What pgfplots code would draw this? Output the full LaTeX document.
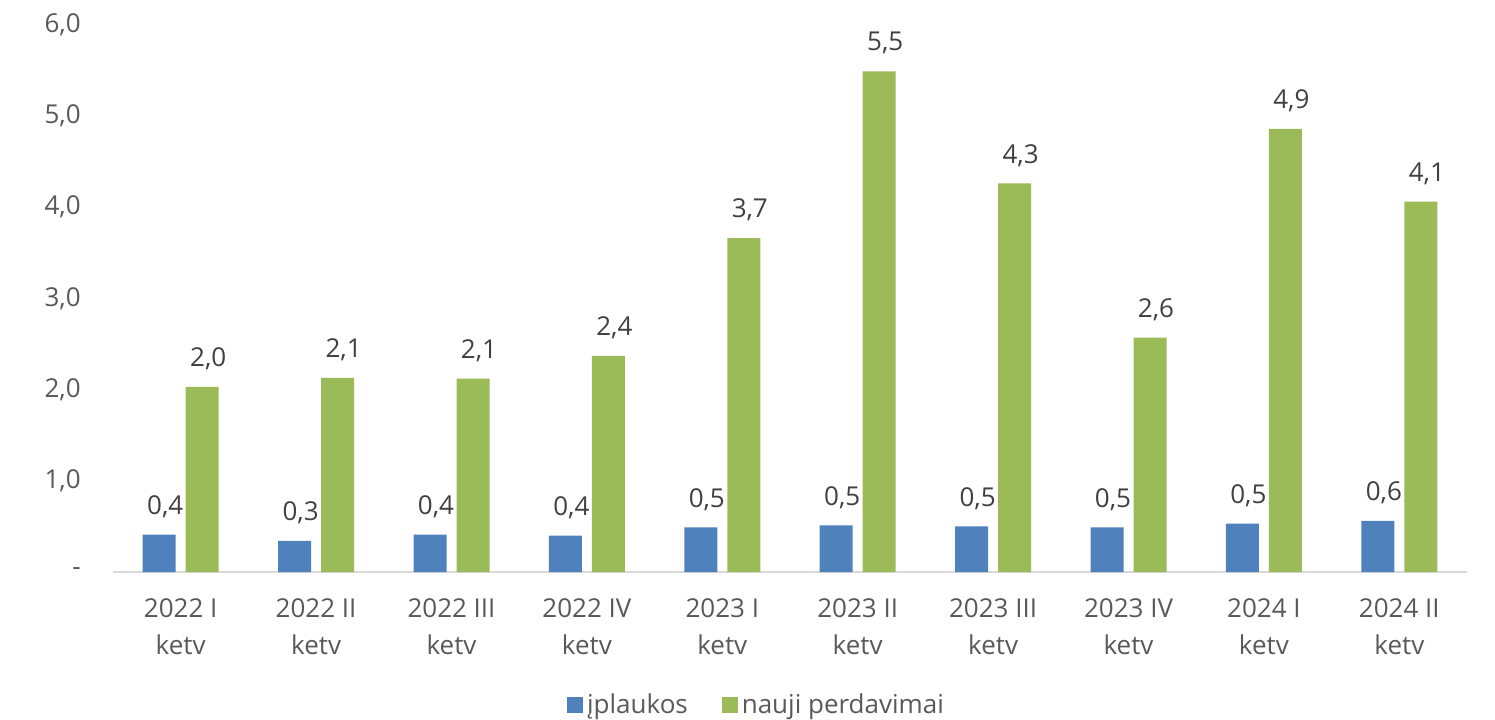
\documentclass[border=0pt]{standalone}
\usepackage{fontspec}
\setmainfont{Open Sans}
\usepackage{pgfplots}
\usepackage{pgfplotstable}
\pgfplotsset{compat=1.18}
\definecolor{cblue}{HTML}{4F81BD}
\definecolor{cgreen}{HTML}{9BBB59}
\definecolor{ctick}{HTML}{595959}
\definecolor{clab}{HTML}{404040}
\definecolor{caxis}{HTML}{D9D9D9}
\pgfplotstableread{
x y
0 0.41
1 0.34
2 0.41
3 0.40
4 0.49
5 0.51
6 0.50
7 0.49
8 0.53
9 0.56
}\bluedata
\pgfplotstableread{
x y
0 2.03
1 2.13
2 2.12
3 2.37
4 3.66
5 5.49
6 4.26
7 2.57
8 4.86
9 4.06
}\greendata
\newcommand{\lf}{\fontsize{13}{18.3}\selectfont}
\begin{document}
\begin{tikzpicture}
\begin{axis}[
  scale only axis, width=677pt, height=273.6pt,
  xmin=-0.5, xmax=9.5, ymin=0, ymax=6,
  ybar=5pt, bar width=16.5pt,
  separate axis lines,
  axis x line*=bottom, axis y line*=left,
  x axis line style={draw=caxis, line width=0.8pt, -},
  y axis line style={draw=none},
  major tick length=0pt,
  xtick={0,...,9},
  xticklabels={{2022 I\\ketv},{2022 II\\ketv},{2022 III\\ketv},{2022 IV\\ketv},{2023 I\\ketv},{2023 II\\ketv},{2023 III\\ketv},{2023 IV\\ketv},{2024 I\\ketv},{2024 II\\ketv}},
  xticklabel style={align=center, font=\lf, text=ctick, yshift=-10pt},
  ytick={0,...,6},
  yticklabels={{-\hspace{7pt}},{1,0},{2,0},{3,0},{4,0},{5,0},{6,0}},
  yticklabel style={font=\lf, text=ctick, xshift=-12.6pt},
  /pgf/number format/assume math mode=true,
  nodes near coords={\pgfmathprintnumber[fixed,fixed zerofill,precision=1,use comma]{\pgfplotspointmeta}},
  nodes near coords style={font=\lf, text=clab, anchor=center, yshift=14pt, xshift=3pt},
  legend columns=2,
  legend style={at={(0.476,-0.2431)}, anchor=center, draw=none, fill=none, font=\lf, text=ctick,
    /tikz/every even column/.append style={column sep=15pt}},
  clip=false,
]
\addplot[fill=cblue, draw=none, legend image code/.code={\fill[cblue] (0pt,-4pt) rectangle (8pt,4pt);}] table[x=x,y=y]{\bluedata};
\addlegendentry{įplaukos}
\addplot[fill=cgreen, draw=none, legend image code/.code={\fill[cgreen] (0pt,-4pt) rectangle (8pt,4pt);}] table[x=x,y=y]{\greendata};
\addlegendentry{nauji perdavimai}
\end{axis}
\pgfresetboundingbox
\path ([shift={(-56.5pt,-73.5pt)}]current axis.south west) rectangle ++(747.5pt,359.5pt);
\end{tikzpicture}
\end{document}
